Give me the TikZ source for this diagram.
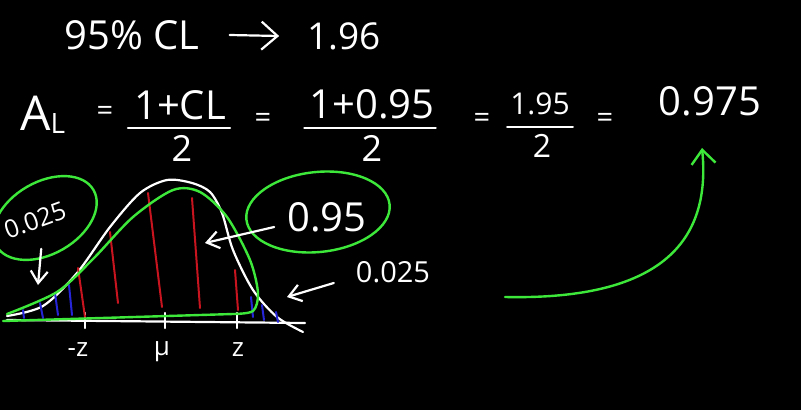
\documentclass[tikz,border=0pt]{standalone}
\usepackage{fontspec}
\setmainfont{Open Sans}
\usetikzlibrary{arrows.meta}
\definecolor{chalkgreen}{HTML}{3DE83A}
\definecolor{chalkred}{HTML}{C8141E}
\definecolor{chalkblue}{HTML}{2626D8}
\begin{document}
\begin{tikzpicture}[x=1pt, y=-1pt,
    chalk/.style={white, line width=2.2pt, line cap=round, line join=round},
    hl/.style={chalkgreen, line width=2.4pt, line cap=round, line join=round},
    redline/.style={chalkred, line width=2pt, line cap=round},
    blueline/.style={chalkblue, line width=2pt, line cap=round},
    txt/.style={text=white, inner sep=0pt, font=\fontsize{40}{40}\selectfont},
    small/.style={text=white, inner sep=0pt, font=\fontsize{29}{29}\selectfont},
    hand/.style={-{Straight Barb[length=12pt, width=17pt]}}]
  \fill[black] (0,0) rectangle (801,410);
  \useasboundingbox (0,0) rectangle (801,410);

  % Top line
  \node[txt] (cl) at (132,35) {95\% CL};
  \node[txt, font=\fontsize{37}{37}\selectfont] (crit) at (344,36) {1.96};
  \draw[chalk, -{Straight Barb[length=16pt, width=28pt]}] ([xshift=30pt]cl.east) -- ([xshift=-28pt]crit.west);

  % Formula
  \node[txt, font=\fontsize{48}{48}\selectfont, anchor=base west] (al) at (20,130) {A\raisebox{-3pt}{\fontsize{28}{28}\selectfont L}};
  \node[small] (eq1) at (105,113) {=};
  \node[txt] (num1) at (180,105) {1+CL};
  \node[txt, font=\fontsize{36}{36}\selectfont] (den1) at (182,148) {2};
  \node[small] (eq2) at (263,120) {=};
  \node[txt] (num2) at (372,104) {1+0.95};
  \node[txt, font=\fontsize{36}{36}\selectfont] (den2) at (372,148) {2};
  \node[small] (eq3) at (482,120) {=};
  \node[txt, font=\fontsize{30}{30}\selectfont] (num3) at (540,104) {1.95};
  \node[txt, font=\fontsize{32}{32}\selectfont] (den3) at (542,146) {2};
  \node[small] (eq4) at (605,120) {=};
  \node[txt] (res) at (710,101) {0.975};
  \draw[chalk] ([xshift=-6pt, yshift=-8pt]num1.south west) -- ([xshift=4pt, yshift=-8pt]num1.south east);
  \draw[chalk] ([xshift=-5pt, yshift=-9pt]num2.south west) -- ([xshift=1pt, yshift=-9pt]num2.south east);
  \draw[chalk] ([xshift=-3pt, yshift=-12pt]num3.south west) -- ([xshift=3pt, yshift=-12pt]num3.south east);

  % Bell curve
  \draw[chalk] plot[smooth] coordinates {(7,316) (43,306) (77,273) (110,227) (140,193) (167,180) (192,183) (210,192) (222,213) (233,250) (253,290) (277,317) (303,332)};
  \draw[chalk] (7,320) -- (305,323);
  \foreach \x in {85,165,237}
    \draw[chalk] (\x,313) -- (\x,328);
  \node[small, font=\fontsize{26}{26}\selectfont] (mz) at (78,350) {-z};
  \node[small, font=\fontsize{26}{26}\selectfont] (mu) at (162,352) {μ};
  \node[small, font=\fontsize{26}{26}\selectfont] (pz) at (238,350) {z};

  % Hatching
  \foreach \xa/\ya/\xb/\yb in {78/268/85/317, 110/232/118/303, 148/193/162/307, 192/198/200/308, 235/270/238/310}
    \draw[redline] (\xa,\ya) -- (\xb,\yb);
  \foreach \xa/\ya/\xb/\yb in {23/310/24/318, 40/303/43/318, 55/293/58/315, 69/285/72/315, 251/297/253/317, 262/305/264/320, 276/312/278/322}
    \draw[blueline] (\xa,\ya) -- (\xb,\yb);

  % Green outline
  \draw[hl] plot[smooth] coordinates {(7,314) (57,292) (93,259) (133,217) (173,190) (200,192) (227,217) (250,260) (258,293) (253,311) (233,314)} -- (3,321);

  % Labels
  \node[small, font=\fontsize{25}{25}\selectfont, rotate=20] (lowlbl) at (35,220) {0.025};
  \draw[hl, rotate around={30:(45,218)}] (45,218) ellipse [x radius=56, y radius=36];
  \node[txt] (hilbl) at (327,217) {0.95};
  \draw[hl, rotate around={6:(318,212)}] (318,212) ellipse [x radius=72, y radius=40];
  \node[small] (uplbl) at (393,272) {0.025};
  \coordinate (lefttail) at (38,285);
  \coordinate (centre) at (205,243);
  \coordinate (righttail) at (287,297);
  \coordinate (curvestart) at (505,297);
  \draw[chalk, hand] ([xshift=3pt, yshift=-20pt]lowlbl.south) -- (lefttail);
  \draw[chalk, hand] ([xshift=-13pt, yshift=-10pt]hilbl.west) -- (centre);
  \draw[chalk, hand] ([xshift=-22pt, yshift=-11pt]uplbl.west) -- (righttail);
  \draw[hl, -{Straight Barb[length=14pt, width=24pt]}] (curvestart) .. controls (650,300) and (712,250) .. ([xshift=-8pt, yshift=-32pt]res.south);
\end{tikzpicture}
\end{document}
